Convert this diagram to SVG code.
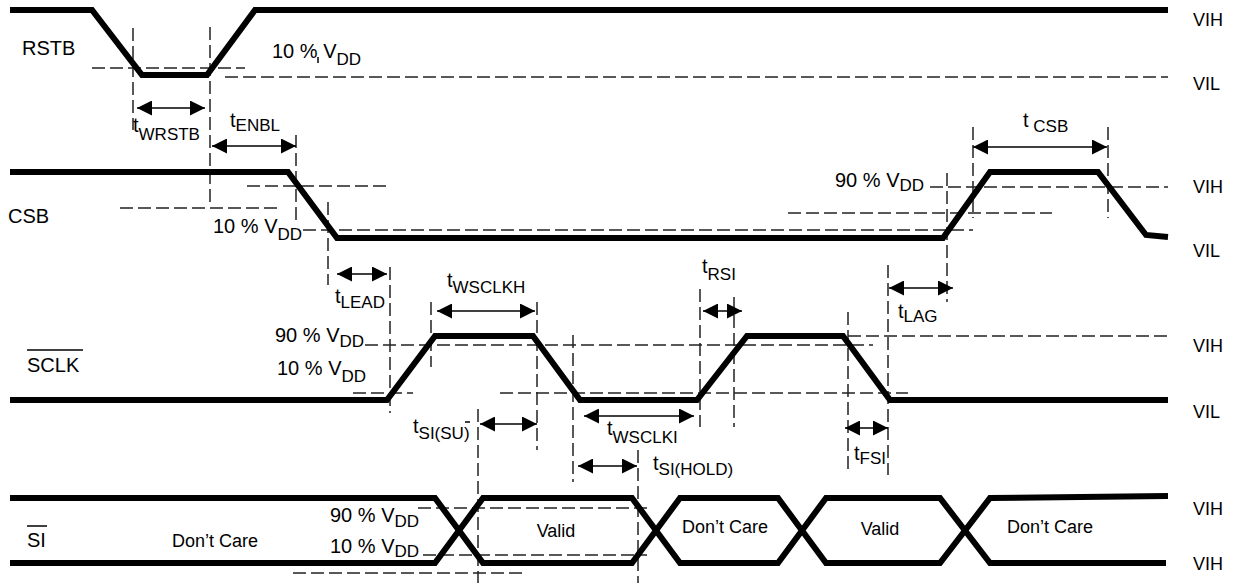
<svg xmlns="http://www.w3.org/2000/svg" width="1238" height="583" viewBox="0 0 1238 583">
<style>
text{font-family:"Liberation Sans",Arial,sans-serif;fill:#000}
.sig{font-size:20px}
.pct{font-size:20px}
.t{font-size:20px}
.sub{font-size:17px}
.lvl{font-size:18px}
.st{font-size:18px}
.wave{fill:none;stroke:#000;stroke-width:6;stroke-linejoin:miter}
.dash{fill:none;stroke:#222;stroke-width:1.5;stroke-dasharray:13 5}
.arr{fill:none;stroke:#000;stroke-width:1.5;marker-start:url(#ah);marker-end:url(#ah)}
.bar{stroke:#000;stroke-width:1.5}
</style>
<defs>
<marker id="ah" viewBox="0 0 15 15" refX="15" refY="7.5" markerWidth="15" markerHeight="15" markerUnits="userSpaceOnUse" orient="auto-start-reverse">
<path d="M0,0 L15,7.5 L0,15 z" fill="#000"/>
</marker>
</defs>
<rect width="1238" height="583" fill="#fff"/>

<g id="guides">
<path class="dash" d="M92,68 H245"/>
<path class="dash" d="M225,77 H1168"/>
<path class="dash" d="M247,186 H387"/>
<path class="dash" d="M120,208 H277"/>
<path class="dash" d="M303,230 H973"/>
<path class="dash" d="M788,213 H1052"/>
<path class="dash" d="M930,187 H1168"/>
<path class="dash" d="M365,345 H873"/>
<path class="dash" d="M848,336 H1168"/>
<path class="dash" d="M353,393 H413"/>
<path class="dash" d="M500,393 H908"/>
<path class="dash" d="M418,508 H650"/>
<path class="dash" d="M423,555 H647"/>
<path class="dash" d="M293,573 H523"/>
<path class="dash" d="M133,28 V130"/>
<path class="dash" d="M210,27 V203"/>
<path class="dash" d="M296,135 V223"/>
<path class="dash" d="M328,202 V285"/>
<path class="dash" d="M390,267 V413"/>
<path class="dash" d="M431,302 V367"/>
<path class="dash" d="M537,302 V450"/>
<path class="dash" d="M573,335 V482"/>
<path class="dash" d="M700,289 V427"/>
<path class="dash" d="M734,297 V427"/>
<path class="dash" d="M478,409 V583"/>
<path class="dash" d="M638,450 V583"/>
<path class="dash" d="M848,312 V473"/>
<path class="dash" d="M888,265 V475"/>
<path class="dash" d="M947,173 V302"/>
<path class="dash" d="M973,127 V218"/>
<path class="dash" d="M1108,127 V218"/>
<path class="bar" d="M318,57 V63"/>
<path class="bar" d="M465,422 H470"/>
</g>

<g id="rstb">
<path class="wave" d="M10,10 H92 L142,75 H207 L255,10 H1168"/>
<text class="sig" x="22" y="55">RSTB</text>
<text class="pct" x="272" y="58">10 % V<tspan class="sub" dy="7">DD</tspan></text>
</g>

<g id="csb">
<path class="wave" d="M10,172 H288 L337,238 H943 L990,172 H1098 L1146,235 L1168,237"/>
<text class="sig" x="8" y="223">CSB</text>
<text class="pct" x="213" y="233">10 % V<tspan class="sub" dy="7">DD</tspan></text>
<text class="pct" x="835" y="187">90 % V<tspan class="sub" dy="4">DD</tspan></text>
</g>

<g id="sclk">
<path class="wave" d="M10,400 H387 L435,336 H533 L580,400 H697 L747,336 H843 L890,400 H1168"/>
<text class="sig" x="27" y="372">SCLK</text>
<path class="bar" d="M27,350 H83"/>
<text class="pct" x="275" y="342">90 % V<tspan class="sub" dy="5">DD</tspan></text>
<text class="pct" x="277" y="375">10 % V<tspan class="sub" dy="7">DD</tspan></text>
</g>

<g id="si">
<path class="wave" d="M10,498 H435 L483,563 H632 L680,498 H778 L826,563 H940 L990,498 L1168,496"/>
<path class="wave" d="M10,563 H435 L483,498 H632 L680,563 H778 L826,498 H940 L990,563 H1166"/>
<text class="sig" x="27" y="547">SI</text>
<path class="bar" d="M27,526 H47"/>
<text class="pct" x="330" y="522">90 % V<tspan class="sub" dy="5">DD</tspan></text>
<text class="pct" x="330" y="553">10 % V<tspan class="sub" dy="4">DD</tspan></text>
<text class="st" x="215" y="547" text-anchor="middle">Don’t Care</text>
<text class="st" x="556" y="537" text-anchor="middle">Valid</text>
<text class="st" x="725" y="533" text-anchor="middle">Don’t Care</text>
<text class="st" x="880" y="535" text-anchor="middle">Valid</text>
<text class="st" x="1050" y="533" text-anchor="middle">Don’t Care</text>
</g>

<g id="levels">
<text class="lvl" x="1193" y="26">VIH</text>
<text class="lvl" x="1193" y="90">VIL</text>
<text class="lvl" x="1193" y="193">VIH</text>
<text class="lvl" x="1193" y="257">VIL</text>
<text class="lvl" x="1193" y="352">VIH</text>
<text class="lvl" x="1193" y="418">VIL</text>
<text class="lvl" x="1193" y="515">VIH</text>
<text class="lvl" x="1193" y="570">VIH</text>
</g>

<g id="connectors">
<path class="arr" d="M137,108 H205"/>
<path class="arr" d="M212,146 H296"/>
<path class="arr" d="M337,274 H387"/>
<path class="arr" d="M437,311 H535"/>
<path class="arr" d="M703,311 H742"/>
<path class="arr" d="M480,424 H537"/>
<path class="arr" d="M584,416 H694"/>
<path class="arr" d="M578,466 H637"/>
<path class="arr" d="M889,288 H953"/>
<path class="arr" d="M845,428 H888"/>
<path class="arr" d="M973,147 H1107"/>
</g>

<g id="timing-labels">
<text class="t" x="133" y="132">t<tspan class="sub" dy="8">WRSTB</tspan></text>
<text class="t" x="230" y="127">t<tspan class="sub" dy="4">ENBL</tspan></text>
<text class="t" x="335" y="303">t<tspan class="sub" dy="5">LEAD</tspan></text>
<text class="t" x="447" y="287">t<tspan class="sub" dy="6">WSCLKH</tspan></text>
<text class="t" x="702" y="273">t<tspan class="sub" dy="7">RSI</tspan></text>
<text class="t" x="413" y="433">t<tspan class="sub" dy="6">SI(SU)</tspan></text>
<text class="t" x="607" y="435">t<tspan class="sub" dy="8">WSCLKI</tspan></text>
<text class="t" x="653" y="470">t<tspan class="sub" dy="5">SI(HOLD)</tspan></text>
<text class="t" x="898" y="318">t<tspan class="sub" dy="4">LAG</tspan></text>
<text class="t" x="854" y="460">t<tspan class="sub" dy="4">FSI</tspan></text>
<text class="t" x="1023" y="127">t<tspan class="sub" dy="5"> CSB</tspan></text>
</g>
</svg>
